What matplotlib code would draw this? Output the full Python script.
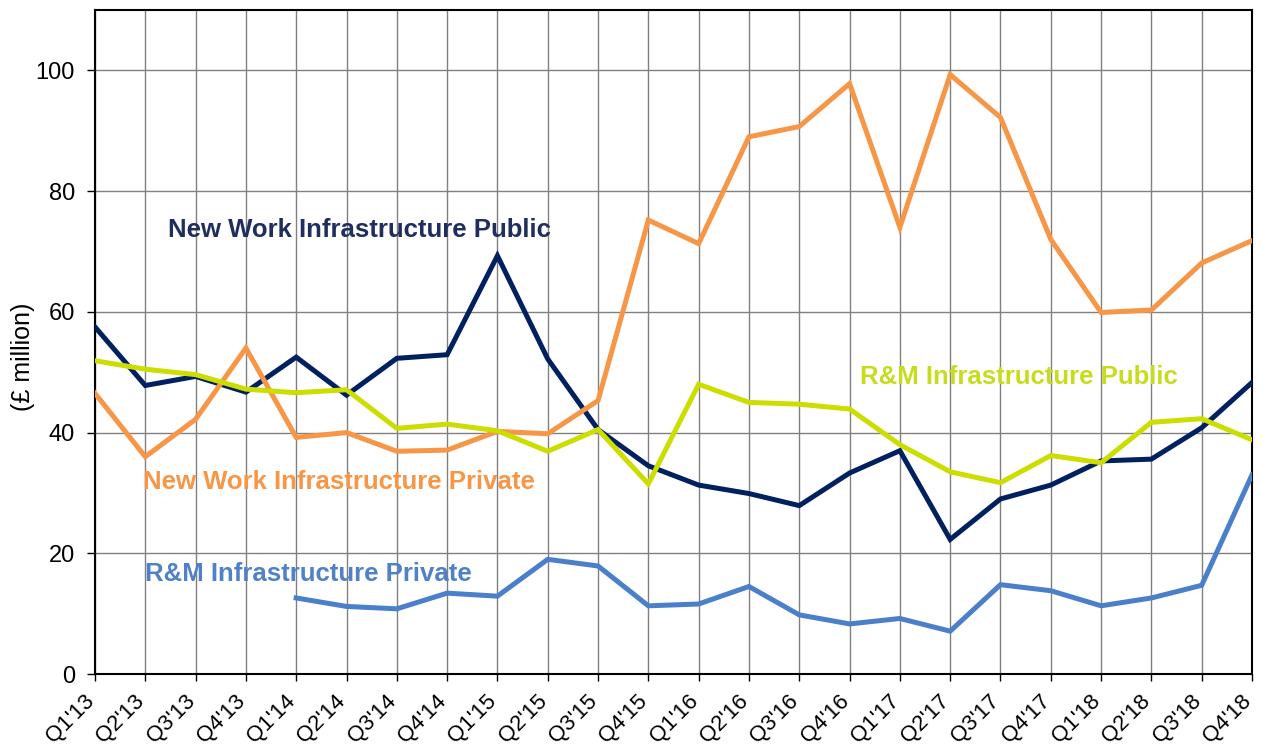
import numpy as np
import matplotlib.pyplot as plt

plt.rcParams['font.family'] = ['Liberation Sans', 'DejaVu Sans']

quarters = ["Q1'13", "Q2'13", "Q3'13", "Q4'13", "Q1'14", "Q2'14", "Q3'14", "Q4'14",
            "Q1'15", "Q2'15", "Q3'15", "Q4'15", "Q1'16", "Q2'16", "Q3'16", "Q4'16",
            "Q1'17", "Q2'17", "Q3'17", "Q4'17", "Q1'18", "Q2'18", "Q3'18", "Q4'18"]

nw_public = [57.5, 47.8, 49.3, 46.7, 52.5, 46.2, 52.3, 52.9, 69.3, 52.2, 40.5, 34.5,
             31.3, 29.9, 27.9, 33.3, 37.0, 22.3, 29.0, 31.3, 35.3, 35.6, 40.8, 48.3]
nw_private = [46.5, 36.0, 42.2, 54.0, 39.2, 40.0, 36.9, 37.1, 40.2, 39.8, 45.3, 75.2,
              71.3, 89.0, 90.7, 97.8, 74.0, 99.3, 92.2, 72.0, 59.9, 60.3, 68.1, 71.8]
rm_public = [51.9, 50.5, 49.6, 47.2, 46.6, 47.1, 40.7, 41.4, 40.3, 36.9, 40.5, 31.5,
             48.0, 45.0, 44.7, 43.9, 38.0, 33.5, 31.7, 36.2, 35.0, 41.7, 42.3, 38.8]
rm_private = [np.nan, np.nan, np.nan, np.nan, 12.6, 11.2, 10.8, 13.4, 12.9, 19.0, 17.9, 11.3,
              11.6, 14.5, 9.8, 8.3, 9.2, 7.1, 14.8, 13.8, 11.3, 12.6, 14.7, 33.0]

c_navy = '#002060'
c_orange = '#F79646'
c_yellow = '#CCDD00'
c_blue = '#4A7FCA'

fig = plt.figure(figsize=(12.63, 7.49), dpi=100)
ax = fig.add_axes([0.0752, 0.1001, 0.9161, 0.8865])

x = np.arange(len(quarters))
ax.plot(x, nw_public, color=c_navy, lw=3.6, solid_joinstyle='miter', zorder=3)
ax.plot(x, nw_private, color=c_orange, lw=3.6, solid_joinstyle='miter', zorder=3)
ax.plot(x, rm_public, color=c_yellow, lw=3.6, solid_joinstyle='miter', zorder=3)
ax.plot(x, rm_private, color=c_blue, lw=3.6, solid_joinstyle='miter', zorder=3)

ax.set_xlim(0, len(quarters) - 1)
ax.set_ylim(0, 110)
ax.set_yticks([0, 20, 40, 60, 80, 100])
ax.set_xticks(x)
ax.set_xticklabels(quarters, rotation=45, ha='right', va='baseline',
                   rotation_mode='anchor', fontsize=16)
ax.tick_params(axis='y', labelsize=17, length=5.5, width=1, pad=9)
ax.tick_params(axis='x', length=5, width=1, pad=15)
ax.grid(True, color='#808080', lw=1)
ax.set_axisbelow(True)
for s in ax.spines.values():
    s.set_color('black')
    s.set_linewidth(1.5)

ax.set_ylabel('(£ million)', fontsize=18)
ax.yaxis.set_label_coords(-0.052, 0.477)

lab = dict(fontsize=18.5, fontweight='bold', va='center', ha='left', zorder=4)
ax.text(1.45, 73.6, 'New Work Infrastructure Public', color='#1F2D5F', **lab)
ax.text(0.95, 31.8, 'New Work Infrastructure Private', color=c_orange, **lab)
ax.text(1.0, 16.6, 'R&M Infrastructure Private', color='#4F81C8', **lab)
ax.text(15.2, 49.2, 'R&M Infrastructure Public', color='#C8DC1E', **lab)

fig.savefig('out.png', dpi=100)
